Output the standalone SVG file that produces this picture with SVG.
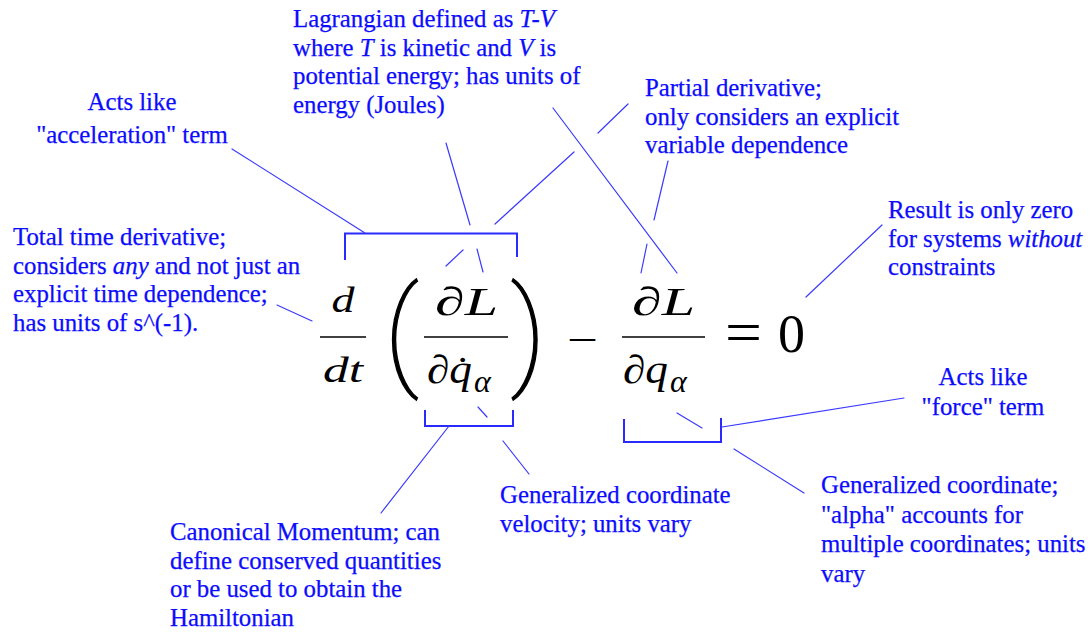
<svg xmlns="http://www.w3.org/2000/svg" width="1091" height="635" viewBox="0 0 1091 635">
<style>
.t{font-family:"Liberation Serif","Times New Roman",serif;font-size:24.8px;fill:#0c0cff;stroke:#0c0cff;stroke-width:0.25}
.c{text-anchor:middle}
.i{font-style:italic}
.m{font-family:"Liberation Serif","Times New Roman",serif;fill:#000}
.mi{font-style:italic}
.par{font-family:"Roboto","Lato","Inter",sans-serif;font-weight:100;fill:#000;stroke:#000;stroke-width:1.3;text-anchor:middle}
.ln{stroke:#3a3aff;stroke-width:1.2;fill:none;stroke-linecap:round}
.br{stroke:#2a2aff;stroke-width:2;fill:none}
.bar{stroke:#000;stroke-width:1.6}
</style>
<rect width="1091" height="635" fill="#fff"/>

<g id="equation">
  <line class="bar" x1="320" y1="337" x2="366" y2="337"/>
  <text class="m mi" x="343" y="312" font-size="36" text-anchor="middle" textLength="23" lengthAdjust="spacingAndGlyphs">d</text>
  <text class="m mi" x="343" y="382" font-size="36" text-anchor="middle" textLength="40" lengthAdjust="spacingAndGlyphs">dt</text>
  <text class="par" x="401.5" y="373" font-size="118">(</text>
  <line class="bar" x1="424" y1="337" x2="508" y2="337"/>
  <text class="m mi" x="435" y="315" font-size="40" textLength="63" lengthAdjust="spacingAndGlyphs">∂L</text>
  <text class="m mi" x="427" y="383" font-size="40" textLength="45" lengthAdjust="spacingAndGlyphs">∂q̇</text>
  <text class="m mi" x="474" y="392" font-size="32">α</text>
  <text class="par" x="528.5" y="373" font-size="118">)</text>
  <text class="m" x="582.5" y="353" font-size="40" text-anchor="middle" textLength="31" lengthAdjust="spacingAndGlyphs">−</text>
  <line class="bar" x1="622" y1="337" x2="705" y2="337"/>
  <text class="m mi" x="632" y="315" font-size="40" textLength="63" lengthAdjust="spacingAndGlyphs">∂L</text>
  <text class="m mi" x="623" y="383" font-size="40" textLength="45" lengthAdjust="spacingAndGlyphs">∂q</text>
  <text class="m mi" x="670" y="392" font-size="32">α</text>
  <text class="m" x="743.5" y="352" font-size="60" text-anchor="middle" textLength="37" lengthAdjust="spacingAndGlyphs">=</text>
  <text class="m" x="791.5" y="352" font-size="54" text-anchor="middle">0</text>
</g>

<g id="brackets">
  <path class="br" d="M345,260 V233.5 H517 V257"/>
  <path class="br" d="M425,410 V426 H513 V410"/>
  <path class="br" d="M624,419 V442 H721 V418"/>
</g>

<g id="connectors">
  <line class="ln" x1="232" y1="149" x2="365" y2="233"/>
  <line class="ln" x1="446" y1="143" x2="470" y2="225"/>
  <line class="ln" x1="477" y1="249" x2="483" y2="272"/>
  <line class="ln" x1="628" y1="104" x2="598" y2="133"/>
  <line class="ln" x1="574" y1="152" x2="495" y2="224"/>
  <line class="ln" x1="463" y1="250" x2="446" y2="266"/>
  <line class="ln" x1="553" y1="108" x2="677" y2="273"/>
  <line class="ln" x1="668" y1="161" x2="654" y2="220"/>
  <line class="ln" x1="647" y1="244" x2="641" y2="273"/>
  <line class="ln" x1="277" y1="305" x2="312" y2="321"/>
  <line class="ln" x1="882" y1="225" x2="806" y2="297"/>
  <line class="ln" x1="478" y1="407" x2="487" y2="417"/>
  <line class="ln" x1="503" y1="441" x2="529" y2="474"/>
  <line class="ln" x1="449" y1="426" x2="381" y2="513"/>
  <line class="ln" x1="722" y1="427" x2="904" y2="398"/>
  <line class="ln" x1="677" y1="413" x2="702" y2="428"/>
  <line class="ln" x1="734" y1="449" x2="804" y2="493"/>
</g>

<g id="note-acceleration">
  <text class="t c" x="132" y="110">Acts like</text>
  <text class="t c" x="132" y="143">"acceleration" term</text>
</g>
<g id="note-lagrangian">
  <text class="t" x="293" y="27">Lagrangian defined as <tspan class="i">T-V</tspan></text>
  <text class="t" x="293" y="55.5">where <tspan class="i">T</tspan> is kinetic and <tspan class="i">V</tspan> is</text>
  <text class="t" x="293" y="84">potential energy; has units of</text>
  <text class="t" x="293" y="112.5">energy (Joules)</text>
</g>
<g id="note-partial">
  <text class="t" x="645" y="96">Partial derivative;</text>
  <text class="t" x="645" y="124.5">only considers an explicit</text>
  <text class="t" x="645" y="153">variable dependence</text>
</g>
<g id="note-total">
  <text class="t" x="13" y="245">Total time derivative;</text>
  <text class="t" x="13" y="273.5">considers <tspan class="i">any</tspan> and not just an</text>
  <text class="t" x="13" y="302">explicit time dependence;</text>
  <text class="t" x="13" y="330.5">has units of s^(-1).</text>
</g>
<g id="note-result">
  <text class="t" x="888" y="218">Result is only zero</text>
  <text class="t" x="888" y="246.5">for systems <tspan class="i">without</tspan></text>
  <text class="t" x="888" y="275">constraints</text>
</g>
<g id="note-force">
  <text class="t c" x="983" y="385">Acts like</text>
  <text class="t c" x="983" y="414.5">"force" term</text>
</g>
<g id="note-gencoord">
  <text class="t" x="821" y="493">Generalized coordinate;</text>
  <text class="t" x="821" y="522.5">"alpha" accounts for</text>
  <text class="t" x="821" y="552">multiple coordinates; units</text>
  <text class="t" x="821" y="581.5">vary</text>
</g>
<g id="note-velocity">
  <text class="t" x="500" y="503">Generalized coordinate</text>
  <text class="t" x="500" y="531.5">velocity; units vary</text>
</g>
<g id="note-momentum">
  <text class="t" x="170" y="540">Canonical Momentum; can</text>
  <text class="t" x="170" y="568.5">define conserved quantities</text>
  <text class="t" x="170" y="597">or be used to obtain the</text>
  <text class="t" x="170" y="626">Hamiltonian</text>
</g>
</svg>
